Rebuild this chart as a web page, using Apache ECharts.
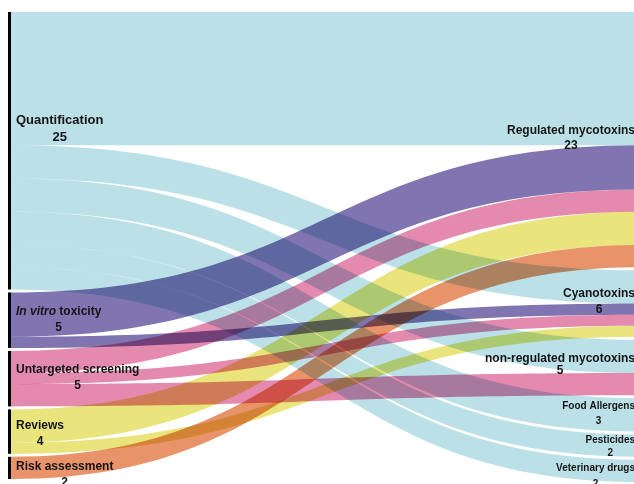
<!DOCTYPE html>
<html>
<head>
<meta charset="utf-8">
<script src="https://cdn.jsdelivr.net/npm/echarts@6/dist/echarts.min.js"></script>
<style>
html,body{margin:0;padding:0;overflow:hidden;background:#fff;}
#chart{width:634px;height:484px;}
</style>
</head>
<body>
<div id="chart"></div>
<script>
// Left column (study types) and their totals
const leftNodes = ['Quantification', 'In vitro toxicity', 'Untargeted screening', 'Reviews', 'Risk assessment'];
const leftTotals = [25, 5, 5, 4, 2];
// Right column (analytes) and their totals
const rightNodes = ['Regulated mycotoxins', 'Cyanotoxins', 'non-regulated mycotoxins', 'Food Allergens', 'Pesticides', 'Veterinary drugs'];
const rightTotals = [23, 6, 5, 3, 2, 2];
// Flows
const linkSources = ['Quantification','Quantification','Quantification','Quantification','Quantification','Quantification',
  'In vitro toxicity','In vitro toxicity',
  'Untargeted screening','Untargeted screening','Untargeted screening',
  'Reviews','Reviews',
  'Risk assessment'];
const linkTargets = ['Regulated mycotoxins','Cyanotoxins','non-regulated mycotoxins','Food Allergens','Pesticides','Veterinary drugs',
  'Regulated mycotoxins','Cyanotoxins',
  'Regulated mycotoxins','Cyanotoxins','non-regulated mycotoxins',
  'Regulated mycotoxins','Cyanotoxins',
  'Regulated mycotoxins'];
const linkValues = [12, 3, 3, 3, 2, 2, 4, 1, 2, 1, 2, 3, 1, 2];
// Flow colour of each source
const sourceColors = ['#bce0e7', '#8075b0', '#e38aae', '#e9e47c', '#e8936a'];

const FONT = 'Liberation Sans';
const TXT = '#151515';
function richSet(size, lh) {
  return {
    n: { fontSize: size, fontWeight: 'bold', align: 'center', lineHeight: lh, color: TXT, fontFamily: FONT },
    i: { fontSize: size, fontWeight: 'bold', fontStyle: 'italic', align: 'center', lineHeight: lh, color: TXT, fontFamily: FONT },
    v: { fontSize: size, fontWeight: 'bold', align: 'center', lineHeight: lh, color: TXT, fontFamily: FONT }
  };
}
const labelStyle = {
  'Quantification': { offset: [0, -22], size: 13, lh: 17 },
  'In vitro toxicity': { offset: [0, 0], size: 12, lh: 16 },
  'Untargeted screening': { offset: [0, -1], size: 12, lh: 16 },
  'Reviews': { offset: [0, 2], size: 12, lh: 16 },
  'Risk assessment': { offset: [0, 7], size: 12, lh: 16 },
  'Regulated mycotoxins': { offset: [0, -1], size: 12, lh: 15 },
  'Cyanotoxins': { offset: [0, -2], size: 12, lh: 16 },
  'non-regulated mycotoxins': { offset: [0, -3], size: 12, lh: 12 },
  'Food Allergens': { offset: [0, -1], size: 10, lh: 15 },
  'Pesticides': { offset: [0, 1], size: 10, lh: 13 },
  'Veterinary drugs': { offset: [0, 5], size: 10, lh: 16 }
};

const totals = {};
leftNodes.forEach((n, i) => totals[n] = leftTotals[i]);
rightNodes.forEach((n, i) => totals[n] = rightTotals[i]);

const nodes = [];
leftNodes.concat(rightNodes).forEach((n) => {
  const isLeft = leftNodes.indexOf(n) >= 0;
  const st = labelStyle[n];
  nodes.push({
    name: n,
    value: totals[n],
    depth: isLeft ? 0 : 1,
    label: {
      position: isLeft ? 'right' : 'left',
      distance: 5,
      offset: st.offset,
      rich: richSet(st.size, st.lh)
    }
  });
});

const links = linkSources.map((s, i) => ({
  source: s,
  target: linkTargets[i],
  value: linkValues[i],
  lineStyle: { color: sourceColors[leftNodes.indexOf(s)], opacity: 1 }
}));

const chart = echarts.init(document.getElementById('chart'), null, { renderer: 'canvas' });
chart.setOption({
  animation: false,
  series: [{
    type: 'sankey',
    left: 8,
    top: 12,
    width: 635,
    height: 470,
    nodeWidth: 3,
    nodeGap: 3,
    layoutIterations: 0,
    draggable: false,
    blendMode: 'multiply',
    emphasis: { disabled: true },
    itemStyle: { color: '#000', borderWidth: 0 },
    lineStyle: { curveness: 0.5, opacity: 1 },
    label: {
      show: true,
      formatter: function (p) {
        const v = totals[p.name];
        if (p.name === 'In vitro toxicity') {
          return '{i|In vitro}{n| toxicity}\n{v|' + v + '}';
        }
        return '{n|' + p.name + '}\n{v|' + v + '}';
      }
    },
    data: nodes,
    links: links
  }]
});
</script>
</body>
</html>
